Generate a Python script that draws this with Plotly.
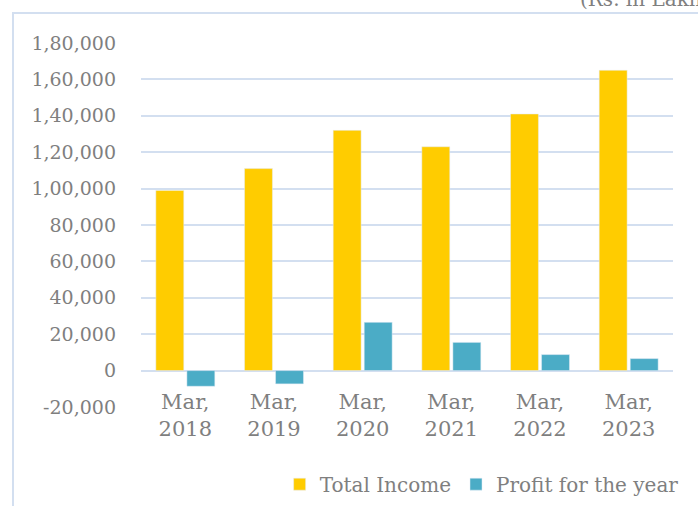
import plotly.graph_objects as go

categories = ["Mar,<br>2018", "Mar,<br>2019", "Mar,<br>2020", "Mar,<br>2021", "Mar,<br>2022", "Mar,<br>2023"]
total_income = [99000, 111000, 132000, 123000, 141000, 165000]
profit_for_year = [-8600, -7300, 26500, 15500, 8800, 6600]
y_tick_vals = [-20000, 0, 20000, 40000, 60000, 80000, 100000, 120000, 140000, 160000, 180000]
y_tick_text = ["-20,000", "0", "20,000", "40,000", "60,000", "80,000", "1,00,000",
               "1,20,000", "1,40,000", "1,60,000", "1,80,000"]
unit_label = "(Rs. in Lakh)"

FONT = "DejaVu Serif"
GRAY = "#7f7f7f"
GRID = "#d3dff0"

fig = go.Figure()
fig.add_trace(go.Bar(name="Total Income", x=categories, y=total_income, marker_color="#FFCC00"))
fig.add_trace(go.Bar(name="Profit for the year", x=categories, y=profit_for_year, marker_color="#4BACC6"))

fig.update_layout(
    width=698, height=506,
    margin=dict(l=141, r=25, t=43, b=99, autoexpand=False),
    paper_bgcolor="white", plot_bgcolor="white",
    barmode="group", bargap=0.30, bargroupgap=0.1,
    font=dict(family=FONT, color=GRAY, size=19),
    showlegend=True,
    legend=dict(orientation="h", x=1.02, xanchor="right", y=-0.212, yanchor="middle",
                font=dict(size=20, color=GRAY), itemwidth=30, traceorder="normal"),
    xaxis=dict(type="category", anchor="free", position=0.1, showline=False, showgrid=False,
               ticks="", tickfont=dict(size=21, color=GRAY), ticklabelstandoff=16,
               automargin=False),
    yaxis=dict(range=[-20000, 180000], tickvals=y_tick_vals, ticktext=y_tick_text,
               showgrid=True, gridcolor=GRID, gridwidth=2, zeroline=True,
               zerolinecolor=GRID, zerolinewidth=2, showline=False,
               tickfont=dict(size=19, color=GRAY), ticklabelstandoff=24, automargin=False),
)

# chart frame (extends past the right and bottom edges, as in the reference crop)
fig.add_shape(type="rect", xref="paper", yref="paper",
              x0=-0.2406, x1=1.1, y0=-0.4, y1=1.0824,
              line=dict(color=GRID, width=2), fillcolor="rgba(0,0,0,0)", layer="below")

fig.add_annotation(text=unit_label, xref="paper", yref="paper", x=0.8214, y=1.0816,
                   xanchor="left", yanchor="bottom", showarrow=False,
                   font=dict(size=20, color=GRAY, family=FONT))

fig.write_html("out.html", config={"displayModeBar": False},
               post_script="document.body.style.margin='0';")
